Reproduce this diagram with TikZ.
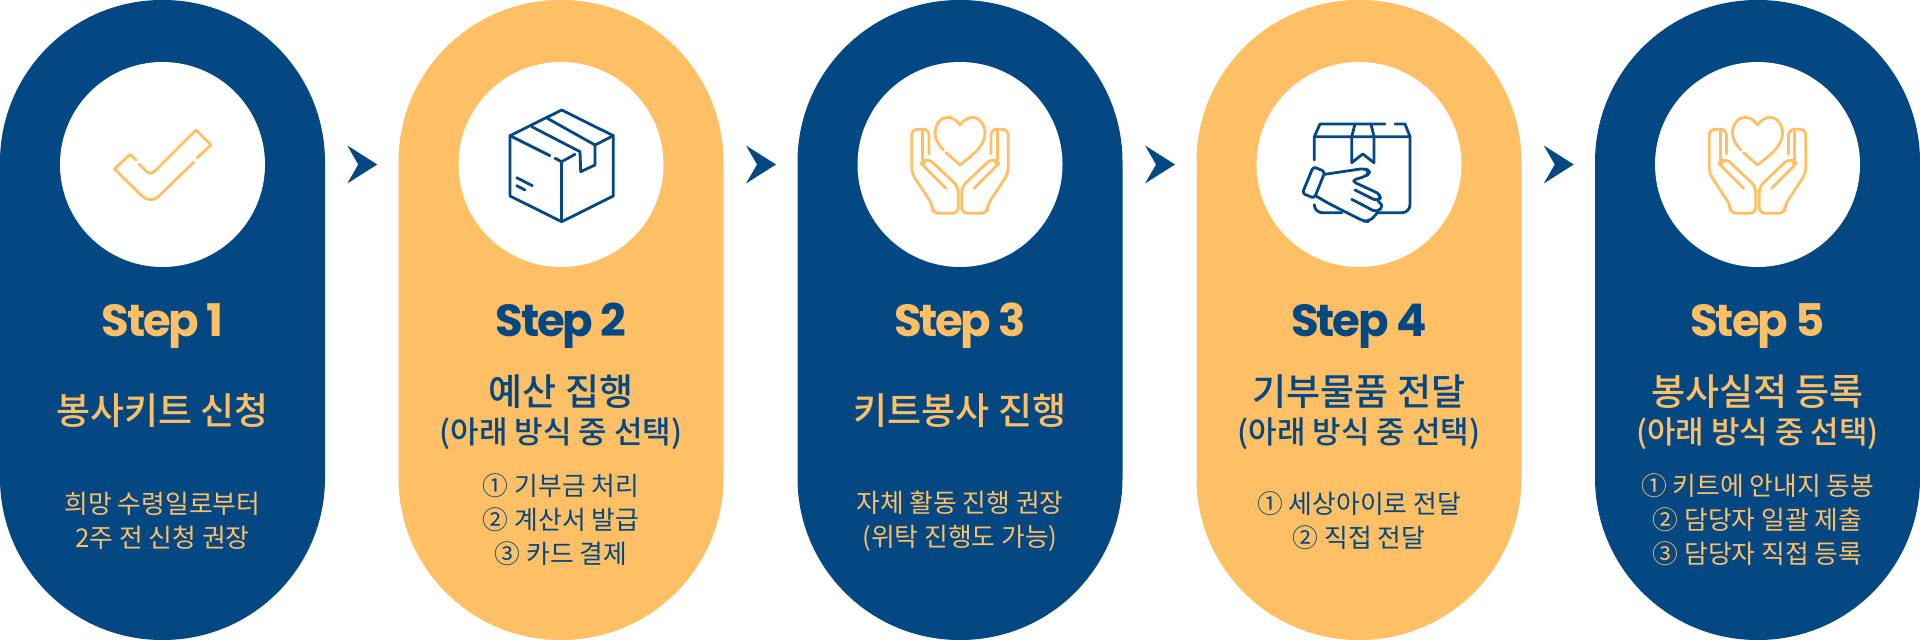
\documentclass[tikz,border=0pt]{standalone}
\usepackage{fontspec}
\usepackage{xcolor}
\usetikzlibrary{calc}
\setmainfont{Noto Sans CJK KR}
\newfontfamily\titlefont{Noto Sans CJK KR Medium}
\newfontfamily\stepfont{Poppins}[BoldFont=Poppins Bold, LetterSpace=-5]
\definecolor{stepblue}{HTML}{034882}
\definecolor{stepgold}{HTML}{FEBF65}
\tikzset{
  panel/.style={draw=none, minimum width=162.5pt, minimum height=320pt, rounded corners=81pt, inner sep=0pt},
  hole/.style={circle, fill=white, minimum size=102.5pt, inner sep=0pt},
  steptxt/.style={anchor=base, font=\stepfont\bfseries\fontsize{22.5}{26}\selectfont},
  titletxt/.style={font=\titlefont\fontsize{18.5}{22}\selectfont},
  subtxt/.style={font=\titlefont\fontsize{15.5}{20}\selectfont},
  bodytxt/.style={align=center, font=\fontsize{12.9}{17}\selectfont},
  iconline/.style={line width=1.4pt, line cap=round, line join=round},
  pics/handsicon/.style={code={
    \foreach \s in {1,-1} {
      \begin{scope}[xscale=\s]
        \draw[iconline, rounded corners=3pt] (-31,-10) -- (-31,-34.7) -- (-48.3,-34.7) -- (-48.3,9.3) -- (-27.3,41) -- (-27.3,49.3) -- (-1.7,49.3) -- (-1.7,22.7) -- (-31.7,-5.7) -- (-39,-1) -- (-35,3.3) -- (-14,24.3);
        \draw[iconline] (-37.3,-34) -- (-37.3,-3);
      \end{scope}
    }
    \draw[iconline] (-16.7,-14) .. controls (-22,-20) and (-25,-25) .. (-25,-30.7) .. controls (-25,-40) and (-19,-46.7) .. (-12.7,-46.7) .. controls (-7,-46.7) and (-3,-43) .. (0,-39) .. controls (3,-43) and (7,-46.7) .. (12.7,-46.7) .. controls (19,-46.7) and (25,-40) .. (25,-30.7) .. controls (25,-17) and (10,-7) .. (0,1) -- (-14,-11.3);
  }}
}
\begin{document}
\begin{tikzpicture}[x=0.5pt, y=-0.5pt]
  \useasboundingbox (0,0) rectangle (1920,640);
  \foreach \n/\x/\bgc/\fgc in {1/162.5/stepblue/stepgold, 2/561/stepgold/stepblue, 3/960/stepblue/stepgold, 4/1359/stepgold/stepblue, 5/1757.5/stepblue/stepgold} {
    \node[panel, fill=\bgc] (panel\n) at (\x,320) {};
    \node[hole] (hole\n) at (\x,164.5) {};
    \node[steptxt, text=\fgc] (step\n) at (\x,337) {Step \n};
  }
  \foreach \a/\b in {1/2, 2/3, 3/4, 4/5} {
    \coordinate (gap\a) at ($(hole\a)!0.5!(hole\b)$);
    \fill[stepblue] ([shift={(-14.5,-19)}]gap\a) -- ([shift={(15.5,0)}]gap\a) -- ([shift={(-14.5,19)}]gap\a) -- ([shift={(-3.5,0)}]gap\a) -- cycle;
  }

  \node[titletxt, text=stepgold] (title1) at (panel1 |- 0,411) {봉사키트 신청};
  \node[bodytxt, text=stepgold] (body1) at (panel1 |- 0,521) {희망 수령일로부터\\2주 전 신청 권장};

  \node[titletxt, text=stepblue] (title2) at (panel2 |- 0,392) {예산 집행};
  \node[subtxt, text=stepblue] (sub2) at (panel2 |- 0,434) {(아래 방식 중 선택)};
  \node[bodytxt, text=stepblue] (body2) at (panel2 |- 0,520) {① 기부금 처리\\② 계산서 발급\\③ 카드 결제};

  \node[titletxt, text=stepgold] (title3) at (panel3 |- 0,411) {키트봉사 진행};
  \node[bodytxt, text=stepgold] (body3) at (panel3 |- 0,521) {자체 활동 진행 권장\\(위탁 진행도 가능)};

  \node[titletxt, text=stepblue] (title4) at (panel4 |- 0,392) {기부물품 전달};
  \node[subtxt, text=stepblue] (sub4) at (panel4 |- 0,434) {(아래 방식 중 선택)};
  \node[bodytxt, text=stepblue] (body4) at (panel4 |- 0,521) {① 세상아이로 전달\\② 직접 전달};

  \node[titletxt, text=stepgold] (title5) at (panel5 |- 0,392) {봉사실적 등록};
  \node[subtxt, text=stepgold] (sub5) at (panel5 |- 0,434) {(아래 방식 중 선택)};
  \node[bodytxt, text=stepgold] (body5) at (panel5 |- 0,520) {① 키트에 안내지 동봉\\② 담당자 일괄 제출\\③ 담당자 직접 등록};

  \draw[iconline, stepgold] (136,160) -- (130,154.5) -- (114.5,169) -- (142,196) .. controls (147,201) and (154,201) .. (159,196) -- (194,162);
  \draw[iconline, stepgold] (197,158) -- (211,145) -- (196,130) -- (154,172) .. controls (152,174) and (149,174) .. (147,172) -- (139,164);

  \begin{scope}[stepblue]
    \draw[iconline] (561.7,110) -- (510,135.7) -- (510,196) -- (561.7,221.7) -- (613.3,196) -- (613.3,135.7) -- cycle;
    \draw[iconline] (510,135.7) -- (550,155.7);
    \draw[iconline] (555,158.3) -- (561.7,161.7) -- (575,154.3);
    \draw[iconline] (561.7,161.7) -- (561.7,221.7);
    \draw[iconline] (547.3,118.3) -- (595,145) -- (613.3,135.7);
    \draw[iconline] (531.7,126.7) -- (580,151.7) -- (580.7,171.7) -- (595,165) -- (595,145);
    \draw[iconline] (516.7,177.7) -- (532.3,185.7);
    \draw[iconline] (516.7,185.7) -- (525,190);
  \end{scope}

  \pic[stepgold] at (960,164) {handsicon};
  \pic[stepgold] at (1757.5,164) {handsicon};

  \begin{scope}[stepblue]
    \draw[iconline] (1385,124) -- (1320,124) -- (1314.3,136.7) -- (1314.3,160);
    \draw[iconline] (1395,124) -- (1405,124) -- (1410,136.7) -- (1314.3,136.7);
    \draw[iconline, rounded corners=4pt] (1410,136.7) -- (1410,212.7) -- (1378.3,212.7);
    \draw[iconline, rounded corners=4pt] (1314.3,205) -- (1314.3,212.7) -- (1341.7,212.7);
    \draw[iconline] (1355,124) -- (1351.7,136.7) -- (1351.7,162.7) -- (1362.7,154) -- (1374,162.7) -- (1374,136.7) -- (1371,124);
    \draw[iconline, rounded corners=1.5pt] (1313.3,166.7) -- (1325,171.7) -- (1314.3,198.3) -- (1302.3,193.3) -- cycle;
    \draw[iconline, rounded corners=2.5pt] (1325,174.3) -- (1365,168.3) -- (1370,171.7) -- (1366.7,176) -- (1351,180.7) -- (1381.7,195) -- (1378.3,201.7) -- (1355,190);
    \draw[iconline, rounded corners=2.5pt] (1378.3,201.7) -- (1384,205) -- (1377.3,212.7) -- (1351.7,199.3);
    \draw[iconline, rounded corners=2.5pt] (1377.3,212.7) -- (1375,216) -- (1368.3,221.7) -- (1363.3,221) -- (1328.3,203.3) -- (1316,196);
  \end{scope}
\end{tikzpicture}
\end{document}
